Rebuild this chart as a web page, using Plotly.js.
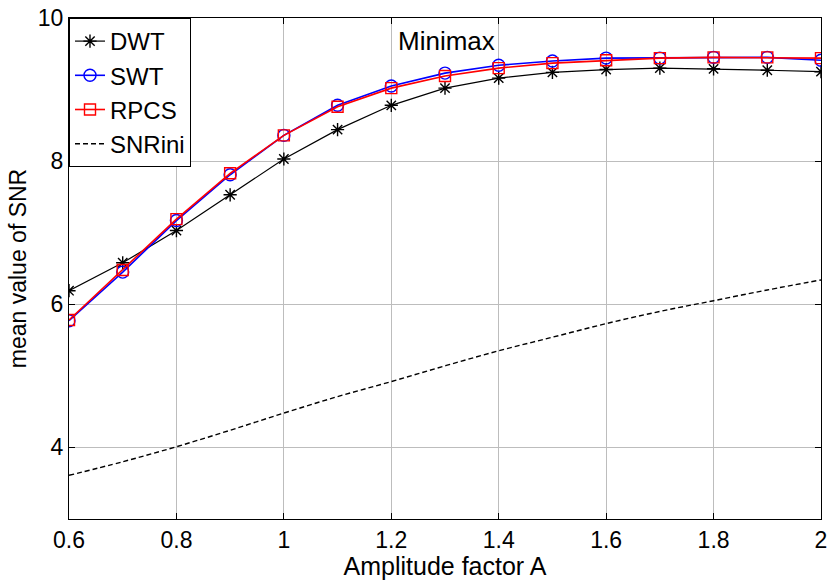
<!DOCTYPE html>
<html>
<head>
<meta charset="utf-8">
<script src="https://cdn.plot.ly/plotly-3.0.1.min.js"></script>
<style>html,body{margin:0;padding:0;background:#fff;}#chart{width:829px;height:580px;}</style>
</head>
<body>
<div id="chart"></div>
<script>
const amp = [0.6, 0.7, 0.8, 0.9, 1.0, 1.1, 1.2, 1.3, 1.4, 1.5, 1.6, 1.7, 1.8, 1.9, 2.0];
const dwt = [6.19, 6.58, 7.03, 7.53, 8.03, 8.44, 8.78, 9.02, 9.16, 9.24, 9.28, 9.30, 9.29, 9.27, 9.25];
const swt = [5.77, 6.45, 7.17, 7.81, 8.36, 8.78, 9.05, 9.23, 9.34, 9.40, 9.44, 9.44, 9.45, 9.45, 9.41];
const rpcs = [5.78, 6.48, 7.19, 7.83, 8.36, 8.76, 9.02, 9.19, 9.30, 9.37, 9.41, 9.44, 9.45, 9.45, 9.44];
const snrini = [3.61, 3.80, 4.01, 4.24, 4.48, 4.71, 4.92, 5.14, 5.35, 5.54, 5.73, 5.90, 6.05, 6.20, 6.34];
const xTicks = [0.6, 0.8, 1.0, 1.2, 1.4, 1.6, 1.8, 2.0];
const xTickText = ['0.6', '0.8', '1', '1.2', '1.4', '1.6', '1.8', '2'];
const yTicks = [4, 6, 8, 10];

const FONT = 'Liberation Sans, Arial, sans-serif';

const traces = [
  {x: amp, y: dwt, name: 'DWT', mode: 'lines+markers', legendgroup: 'a',
   line: {color: '#000000', width: 1.2},
   marker: {symbol: 'asterisk-open', size: 11, color: '#000000', line: {color: '#000000', width: 1.4}}},
  {x: amp, y: swt, name: 'SWT', mode: 'lines+markers', legendgroup: 'b',
   line: {color: '#0000ff', width: 1.6},
   marker: {symbol: 'circle-open', size: 12, color: '#0000ff', line: {color: '#0000ff', width: 1.4}}},
  {x: amp, y: rpcs, name: 'RPCS', mode: 'lines+markers', legendgroup: 'c',
   line: {color: '#ff0000', width: 1.6},
   marker: {symbol: 'square-open', size: 11, color: '#ff0000', line: {color: '#ff0000', width: 1.4}}},
  {x: amp, y: snrini, name: 'SNRini', mode: 'lines', legendgroup: 'd',
   line: {color: '#000000', width: 1.4, dash: '5px,3px', shape: 'spline'}}
];

const axisCommon = {
  showline: true, linecolor: '#000', linewidth: 1, mirror: 'ticks',
  ticks: 'inside', ticklen: 6, tickcolor: '#000',
  showgrid: true, gridcolor: '#bdbdbd', gridwidth: 1,
  zeroline: false,
  tickfont: {family: FONT, size: 23, color: '#000'}
};

const layout = {
  width: 829, height: 580,
  margin: {l: 69, r: 8, t: 18, b: 61},
  paper_bgcolor: '#fff', plot_bgcolor: '#fff',
  showlegend: true,
  xaxis: Object.assign({}, axisCommon, {
    range: [0.6, 2.0], tickvals: xTicks, ticktext: xTickText,
    title: {text: 'Amplitude factor A', font: {family: FONT, size: 25, color: '#000'}, standoff: 1}
  }),
  yaxis: Object.assign({}, axisCommon, {
    range: [3, 10], tickvals: yTicks,
    title: {text: 'mean value of SNR', font: {family: FONT, size: 23, color: '#000'}, standoff: 4}
  }),
  legend: {
    x: 0, y: 1, xanchor: 'left', yanchor: 'top',
    bgcolor: '#fff', bordercolor: '#000', borderwidth: 1,
    font: {family: FONT, size: 24, color: '#000'},
    tracegroupgap: 0, itemwidth: 30
  },
  annotations: [{
    x: 1.302, y: 9.676, xref: 'x', yref: 'y', text: 'Minimax', showarrow: false,
    font: {family: FONT, size: 26, color: '#000'}
  }]
};

Plotly.newPlot('chart', traces, layout, {displayModeBar: false, staticPlot: true});
</script>
</body>
</html>
